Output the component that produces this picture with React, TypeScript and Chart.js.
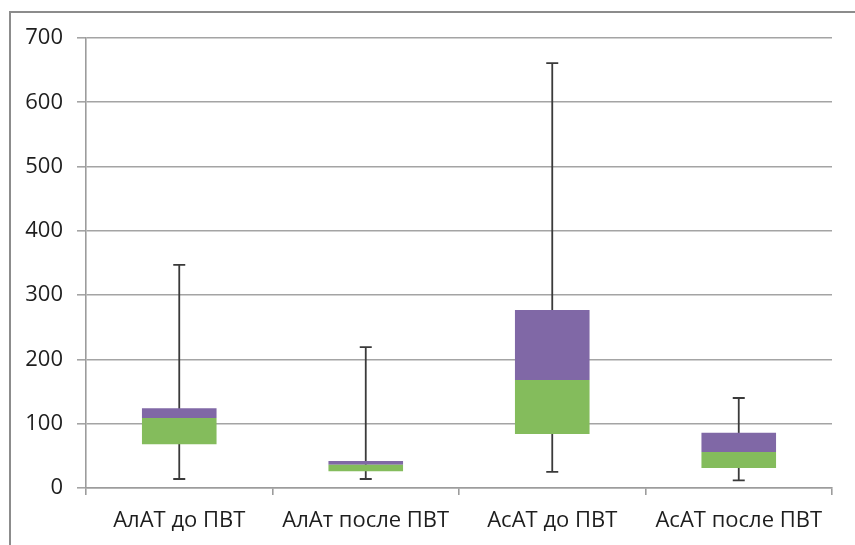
import React, { useEffect, useRef } from "react";
import { Chart, registerables } from "chart.js";

Chart.register(...registerables);

const categories = ["АлАТ до ПВТ", "АлАт после ПВТ", "АсАТ до ПВТ", "АсАТ после ПВТ"];
const minValues = [14, 14, 25, 12];
const q1Values = [68, 26, 84, 31];
const medianValues = [109, 36, 168, 56];
const q3Values = [124, 42, 277, 86];
const maxValues = [347, 219, 661, 140];
const yTicks = [0, 100, 200, 300, 400, 500, 600, 700];

const FONT = "'Open Sans', 'Noto Sans', sans-serif";

const whiskerPlugin = {
  id: "whiskers",
  beforeDatasetsDraw(chart: any) {
    const { ctx, scales } = chart;
    const x = scales.x;
    const y = scales.y;
    ctx.save();
    ctx.strokeStyle = "#3a3a3a";
    ctx.lineWidth = 1.8;
    categories.forEach((_, i) => {
      const cx = x.getPixelForValue(i);
      const yMin = y.getPixelForValue(minValues[i]);
      const yMax = y.getPixelForValue(maxValues[i]);
      ctx.beginPath();
      ctx.moveTo(cx, yMin);
      ctx.lineTo(cx, yMax);
      ctx.moveTo(cx - 6, yMin);
      ctx.lineTo(cx + 6, yMin);
      ctx.moveTo(cx - 6, yMax);
      ctx.lineTo(cx + 6, yMax);
      ctx.stroke();
    });
    ctx.restore();
  },
};

export default function App() {
  const ref = useRef<HTMLCanvasElement | null>(null);
  useEffect(() => {
    if (!ref.current) return;
    const chart = new Chart(ref.current, {
      type: "bar",
      data: {
        labels: categories,
        datasets: [
          {
            label: "Q1-Me",
            data: categories.map((_, i) => [q1Values[i], medianValues[i]]) as any,
            backgroundColor: "#84bc5c",
            borderWidth: 0,
            grouped: false,
            barPercentage: 0.4,
            categoryPercentage: 1,
          },
          {
            label: "Me-Q3",
            data: categories.map((_, i) => [medianValues[i], q3Values[i]]) as any,
            backgroundColor: "#8068a6",
            borderWidth: 0,
            grouped: false,
            barPercentage: 0.4,
            categoryPercentage: 1,
          },
        ],
      },
      options: {
        animation: false,
        responsive: false,
        maintainAspectRatio: false,
        layout: { padding: { left: 0, right: 23, top: 38, bottom: 0 } },
        plugins: { legend: { display: false }, tooltip: { enabled: false } },
        scales: {
          x: {
            grid: {
              offset: true,
              drawOnChartArea: false,
              drawTicks: true,
              tickLength: 7,
              color: "#9c9c9c",
              lineWidth: 1.6,
            },
            border: { display: true, color: "#9c9c9c", width: 1.6 },
            ticks: {
              color: "#1e1e1e",
              font: { family: FONT, size: 22 },
              padding: 13,
            },
            afterFit(s: any) {
              s.height = 57;
            },
          },
          y: {
            min: 0,
            max: 700,
            afterBuildTicks(s: any) {
              s.ticks = yTicks.map((v) => ({ value: v }));
            },
            grid: {
              color: "#a4a4a4",
              lineWidth: 1.6,
              drawTicks: true,
              tickLength: 9,
            },
            border: { display: true, color: "#9c9c9c", width: 1.6 },
            ticks: {
              color: "#1e1e1e",
              font: { family: FONT, size: 22 },
              padding: 14,
            },
            afterFit(s: any) {
              s.width = 86;
            },
          },
        },
      },
      plugins: [whiskerPlugin],
    });
    return () => chart.destroy();
  }, []);

  return (
    <div style={{ position: "fixed", left: 0, top: 0, width: 855, height: 545, background: "#fff" }}>
      <div
        style={{
          position: "absolute",
          left: 9,
          top: 11,
          width: 900,
          height: 600,
          borderTop: "2px solid #8c8c8c",
          borderLeft: "2px solid #8c8c8c",
        }}
      />
      <canvas ref={ref} width={855} height={545} style={{ position: "absolute", left: 0, top: 0 }} />
    </div>
  );
}
